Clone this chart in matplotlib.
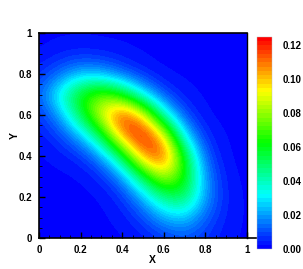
import numpy as np
import matplotlib.pyplot as plt
from matplotlib.colors import LinearSegmentedColormap
from matplotlib.patches import Rectangle
from matplotlib.ticker import MultipleLocator

plt.rcParams['font.family'] = ['Liberation Sans', 'DejaVu Sans']
plt.rcParams['font.weight'] = 'bold'

# grid points (0.1 spacing) and field values
x_pts = np.linspace(0, 1, 11)
y_pts = np.linspace(0, 1, 11)
z_rows = [
    [0.002, 0.002, 0.002, 0.002, 0.002, 0.003, 0.007, 0.010, 0.007, 0.003, 0.002],  # y=0.0
    [0.002, 0.002, 0.002, 0.002, 0.003, 0.009, 0.022, 0.027, 0.012, 0.004, 0.002],  # y=0.1
    [0.002, 0.002, 0.002, 0.002, 0.006, 0.022, 0.048, 0.053, 0.020, 0.004, 0.002],  # y=0.2
    [0.002, 0.002, 0.002, 0.005, 0.018, 0.054, 0.088, 0.066, 0.018, 0.003, 0.002],  # y=0.3
    [0.002, 0.003, 0.006, 0.018, 0.054, 0.108, 0.121, 0.060, 0.011, 0.002, 0.002],  # y=0.4
    [0.003, 0.008, 0.022, 0.054, 0.108, 0.129, 0.097, 0.028, 0.005, 0.002, 0.002],  # y=0.5
    [0.006, 0.020, 0.054, 0.092, 0.123, 0.097, 0.038, 0.009, 0.002, 0.002, 0.002],  # y=0.6
    [0.012, 0.036, 0.064, 0.077, 0.062, 0.030, 0.009, 0.003, 0.002, 0.002, 0.002],  # y=0.7
    [0.006, 0.014, 0.024, 0.022, 0.012, 0.005, 0.002, 0.002, 0.002, 0.002, 0.002],  # y=0.8
    [0.002, 0.004, 0.005, 0.004, 0.003, 0.002, 0.002, 0.002, 0.002, 0.002, 0.002],  # y=0.9
    [0.002, 0.002, 0.002, 0.002, 0.002, 0.002, 0.002, 0.002, 0.002, 0.002, 0.002],  # y=1.0
]
cbar_ticks = [0.00, 0.02, 0.04, 0.06, 0.08, 0.10, 0.12]

z = np.array(z_rows)
dx = x_pts[1] - x_pts[0]
dy = y_pts[1] - y_pts[0]

# tecplot-like rainbow, drawn in bands
cmap = LinearSegmentedColormap.from_list(
    'tec', ['#0000ff', '#00ffff', '#00ff00', '#ffff00', '#ff0000'], N=50)

fig = plt.figure(figsize=(3.03, 2.69), dpi=100)
ax = fig.add_axes([39 / 303, 31 / 269, 226 / 303, 205 / 269])

im = ax.imshow(z, origin='lower', cmap=cmap, vmin=0, vmax=0.125,
               extent=[x_pts[0] - dx / 2, x_pts[-1] + dx / 2,
                       y_pts[0] - dy / 2, y_pts[-1] + dy / 2],
               interpolation='bicubic', interpolation_stage='data',
               aspect='auto')
im.set_clip_path(Rectangle((0, 0), 1, 1, transform=ax.transData))

ax.set_xlim(0, 1.087)
ax.set_ylim(0, 1)
ax.spines['top'].set_visible(False)
ax.spines['right'].set_visible(False)
for s in ['left', 'bottom']:
    ax.spines[s].set_linewidth(1.2)
ax.plot([0, 1], [1, 1], color='black', lw=1.2, clip_on=False)
ax.plot([1, 1], [0, 1], color='black', lw=1.0, clip_on=False)

ax.xaxis.set_minor_locator(MultipleLocator(0.05))
ax.yaxis.set_minor_locator(MultipleLocator(0.05))
ax.set_xticks([0, 0.2, 0.4, 0.6, 0.8, 1.0])
ax.set_xticklabels(['0', '0.2', '0.4', '0.6', '0.8', '1'])
ax.set_yticks([0, 0.2, 0.4, 0.6, 0.8, 1.0])
ax.set_yticklabels(['0', '0.2', '0.4', '0.6', '0.8', '1'])
ax.tick_params(which='major', direction='in', length=4, width=1, labelsize=7, pad=5)
ax.tick_params(which='minor', direction='in', length=2, width=0.6)
ax.set_xlabel('X', fontsize=7.5, fontweight='bold', labelpad=0)
ax.set_ylabel('Y', fontsize=7.5, fontweight='bold', labelpad=-1)

cax = fig.add_axes([257 / 303, 20 / 269, 15 / 303, 212 / 269])
cb = fig.colorbar(im, cax=cax, ticks=cbar_ticks, format='%.2f')
cb.outline.set_linewidth(0.3)
cb.outline.set_edgecolor('#bbbbbb')
cax.tick_params(length=0, labelsize=7, pad=8)

fig.savefig('out.png', dpi=100)
